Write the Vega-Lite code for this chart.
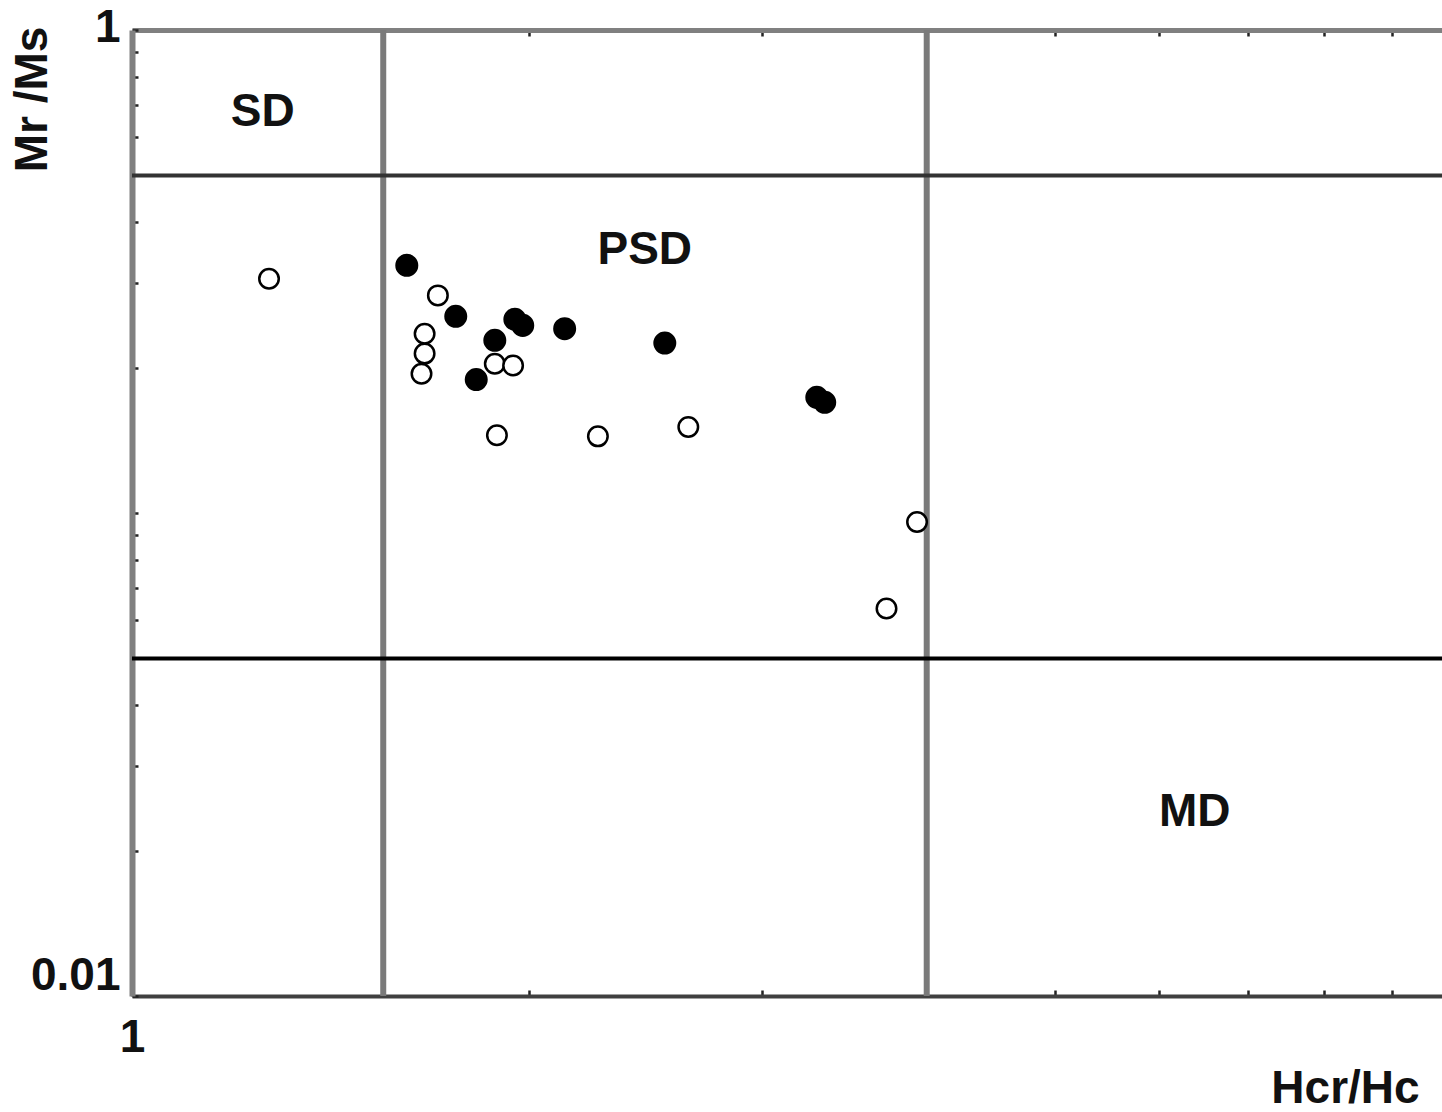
{
  "$schema": "https://vega.github.io/schema/vega-lite/v6.json",
  "width": 1310,
  "height": 966,
  "autosize": {"type": "none"},
  "padding": {"left": 132, "top": 30, "right": 0, "bottom": 116},
  "background": "white",
  "config": {"view": {"stroke": null}, "font": "Liberation Sans"},
  "datasets": {
    "points": [
      {"hcr_hc": 1.270, "mr_ms": 0.3056, "group": "open"},
      {"hcr_hc": 1.705, "mr_ms": 0.2822, "group": "open"},
      {"hcr_hc": 1.666, "mr_ms": 0.2351, "group": "open"},
      {"hcr_hc": 1.666, "mr_ms": 0.2138, "group": "open"},
      {"hcr_hc": 1.657, "mr_ms": 0.1943, "group": "open"},
      {"hcr_hc": 1.883, "mr_ms": 0.2038, "group": "open"},
      {"hcr_hc": 1.944, "mr_ms": 0.2021, "group": "open"},
      {"hcr_hc": 1.890, "mr_ms": 0.1448, "group": "open"},
      {"hcr_hc": 2.254, "mr_ms": 0.1441, "group": "open"},
      {"hcr_hc": 2.639, "mr_ms": 0.1507, "group": "open"},
      {"hcr_hc": 3.933, "mr_ms": 0.0958, "group": "open"},
      {"hcr_hc": 3.729, "mr_ms": 0.0634, "group": "open"},
      {"hcr_hc": 1.615, "mr_ms": 0.3256, "group": "filled"},
      {"hcr_hc": 1.759, "mr_ms": 0.2554, "group": "filled"},
      {"hcr_hc": 1.883, "mr_ms": 0.2278, "group": "filled"},
      {"hcr_hc": 1.823, "mr_ms": 0.1889, "group": "filled"},
      {"hcr_hc": 1.950, "mr_ms": 0.2518, "group": "filled"},
      {"hcr_hc": 1.977, "mr_ms": 0.2446, "group": "filled"},
      {"hcr_hc": 2.127, "mr_ms": 0.2408, "group": "filled"},
      {"hcr_hc": 2.533, "mr_ms": 0.2248, "group": "filled"},
      {"hcr_hc": 3.302, "mr_ms": 0.1736, "group": "filled"},
      {"hcr_hc": 3.348, "mr_ms": 0.1695, "group": "filled"}
    ],
    "vlines": [{"hcr_hc": 1.55}, {"hcr_hc": 4}],
    "hlines": [{"mr_ms": 0.5, "kind": "a"}, {"mr_ms": 0.05, "kind": "b"}],
    "regions": [
      {"hcr_hc": 1.256, "mr_ms": 0.675, "label": "SD"},
      {"hcr_hc": 2.446, "mr_ms": 0.350, "label": "PSD"},
      {"hcr_hc": 6.385, "mr_ms": 0.0240, "label": "MD"}
    ]
  },
  "layer": [
    {
      "data": {"name": "vlines"},
      "mark": {"type": "rule", "color": "#7a7a7a", "strokeWidth": 6},
      "encoding": {
        "x": {
          "field": "hcr_hc", "type": "quantitative",
          "scale": {"type": "log", "domain": [1, 9.827], "nice": false, "zero": false},
          "axis": {
            "orient": "top",
            "values": [2, 3, 4, 5, 6, 7, 8, 9],
            "labels": false,
            "title": null,
            "grid": false,
            "domainColor": "#808080",
            "domainWidth": 5,
            "tickColor": "#222222",
            "tickWidth": 2.5,
            "tickSize": -6
          }
        }
      }
    },
    {
      "data": {"name": "hlines"},
      "mark": {"type": "rule", "strokeWidth": 4},
      "encoding": {
        "y": {
          "field": "mr_ms", "type": "quantitative",
          "scale": {"type": "log", "domain": [0.01, 1], "nice": false, "zero": false},
          "axis": {
            "orient": "left",
            "values": [0.01, 0.02, 0.03, 0.04, 0.05, 0.06, 0.07, 0.08, 0.09, 0.1, 0.2, 0.3, 0.4, 0.5, 0.6, 0.7, 0.8, 0.9, 1],
            "labelExpr": "datum.value == 1 ? '1' : (datum.value == 0.01 ? '0.01' : '')",
            "labelFlush": false,
            "labelFont": "Liberation Sans",
            "labelFontSize": 46,
            "labelFontWeight": "bold",
            "labelColor": "#111111",
            "labelAlign": "right",
            "labelBaseline": "middle",
            "labelOffset": {"condition": {"test": "datum.value == 1", "value": -3}, "value": -21},
            "labelPadding": 18,
            "grid": false,
            "domainColor": "#808080",
            "domainWidth": 6,
            "tickColor": "#222222",
            "tickWidth": 2.5,
            "tickSize": -6,
            "title": "Mr /Ms",
            "titleFont": "Liberation Sans",
            "titleFontSize": 46,
            "titleFontWeight": "bold",
            "titleColor": "#111111",
            "titleAngle": 270,
            "titleAlign": "center",
            "titleBaseline": "middle",
            "titleX": -100,
            "titleY": 69
          }
        },
        "color": {"field": "kind", "type": "nominal", "scale": {"domain": ["a", "b"], "range": ["#333333", "#000000"]}, "legend": null}
      }
    },
    {
      "data": {"name": "regions"},
      "mark": {"type": "text", "font": "Liberation Sans", "fontSize": 46, "fontWeight": "bold", "align": "center", "baseline": "middle", "color": "#111111"},
      "encoding": {
        "x": {"field": "hcr_hc", "type": "quantitative", "scale": {"type": "log", "domain": [1, 9.827], "nice": false, "zero": false}, "axis": null},
        "y": {"field": "mr_ms", "type": "quantitative", "scale": {"type": "log", "domain": [0.01, 1], "nice": false, "zero": false}},
        "text": {"field": "label"}
      }
    },
    {
      "data": {"name": "points"},
      "mark": {"type": "point", "shape": "circle", "filled": true, "stroke": "black", "strokeWidth": 2.5, "opacity": 1},
      "encoding": {
        "x": {
          "field": "hcr_hc", "type": "quantitative",
          "scale": {"type": "log", "domain": [1, 9.827], "nice": false, "zero": false},
          "axis": {
            "orient": "bottom",
            "values": [1, 2, 3, 4, 5, 6, 7, 8, 9],
            "labelExpr": "datum.value == 1 ? '1' : ''",
            "labelFlush": false,
            "labelFont": "Liberation Sans",
            "labelFontSize": 46,
            "labelFontWeight": "bold",
            "labelColor": "#111111",
            "labelBaseline": "top",
            "labelPadding": 25,
            "grid": false,
            "domainColor": "#404040",
            "domainWidth": 4,
            "tickColor": "#222222",
            "tickWidth": 2.5,
            "tickSize": -6,
            "title": "Hcr/Hc",
            "titleFont": "Liberation Sans",
            "titleFontSize": 46,
            "titleFontWeight": "bold",
            "titleColor": "#111111",
            "titleAngle": 0,
            "titleAlign": "center",
            "titleBaseline": "middle",
            "titleX": 1213,
            "titleY": 92
          }
        },
        "y": {
          "field": "mr_ms", "type": "quantitative",
          "scale": {"type": "log", "domain": [0.01, 1], "nice": false, "zero": false}
        },
        "fill": {"field": "group", "type": "nominal", "scale": {"domain": ["open", "filled"], "range": ["white", "black"]}, "legend": null},
        "size": {"condition": {"test": "datum.group == 'filled'", "value": 420}, "value": 380}
      }
    }
  ]
}
